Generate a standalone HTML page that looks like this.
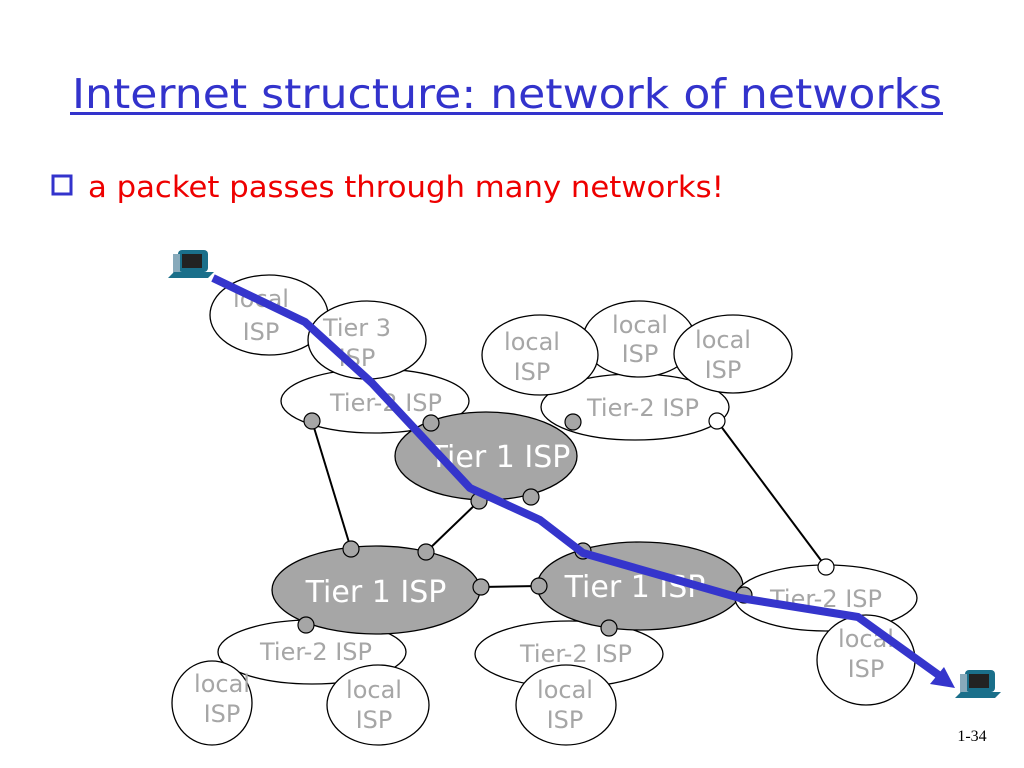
<!DOCTYPE html>
<html><head><meta charset="utf-8"><style>
html,body{margin:0;padding:0;background:#fff;}
svg{display:block}
</style></head><body>
<svg width="1024" height="768" viewBox="0 0 1024 768" xmlns="http://www.w3.org/2000/svg" font-family="'DejaVu Sans','Liberation Sans',sans-serif">
<rect width="1024" height="768" fill="#fff"/>
<text x="507" y="108" font-size="41" fill="#3333cc" text-anchor="middle" textLength="870" lengthAdjust="spacingAndGlyphs">Internet structure: network of networks</text>
<rect x="70" y="112" width="873" height="3" fill="#3333cc"/>
<rect x="53" y="176" width="18" height="18" fill="#fff" stroke="#3333cc" stroke-width="3"/>
<text x="88" y="197" font-size="29" fill="#ee0000" textLength="636" lengthAdjust="spacingAndGlyphs">a packet passes through many networks!</text>

<g stroke="#000" stroke-width="1.3" fill="#fff">
<ellipse cx="375" cy="401" rx="94" ry="32"/>
<ellipse cx="269" cy="315" rx="59" ry="40"/>
<ellipse cx="367" cy="340" rx="59" ry="39"/>
<ellipse cx="635" cy="407" rx="94" ry="33"/>
<ellipse cx="639" cy="339" rx="56" ry="38"/>
<ellipse cx="540" cy="355" rx="58" ry="40"/>
<ellipse cx="733" cy="354" rx="59" ry="39"/>
<ellipse cx="486" cy="456" rx="91" ry="44" fill="#a6a6a6"/>
<ellipse cx="312" cy="652" rx="94" ry="32"/>
<ellipse cx="212" cy="703" rx="40" ry="42"/>
<ellipse cx="378" cy="705" rx="51" ry="40"/>
<ellipse cx="376" cy="590" rx="104" ry="44" fill="#a6a6a6"/>
<ellipse cx="569" cy="654" rx="94" ry="33"/>
<ellipse cx="566" cy="705" rx="50" ry="40"/>
<ellipse cx="640" cy="586" rx="103" ry="44" fill="#a6a6a6"/>
<ellipse cx="826" cy="598" rx="91" ry="33"/>
<ellipse cx="866" cy="660" rx="49" ry="45"/>
</g>
<g stroke="#000" stroke-width="2">
<line x1="312" y1="421" x2="351" y2="549"/>
<line x1="479" y1="501" x2="426" y2="552"/>
<line x1="481" y1="587" x2="539" y2="586"/>
<line x1="717" y1="421" x2="826" y2="567"/>
</g>
<g fill="#a6a6a6" font-size="24" text-anchor="middle">
<text x="261" y="307">local</text><text x="261" y="340">ISP</text>
<text x="357" y="336">Tier 3</text><text x="357" y="366">ISP</text>
<text x="386" y="411">Tier-2 ISP</text>
<text x="532" y="350">local</text><text x="532" y="380">ISP</text>
<text x="640" y="333">local</text><text x="640" y="362">ISP</text>
<text x="723" y="348">local</text><text x="723" y="378">ISP</text>
<text x="643" y="416">Tier-2 ISP</text>
<text x="316" y="660">Tier-2 ISP</text>
<text x="222" y="692">local</text><text x="222" y="722">ISP</text>
<text x="374" y="698">local</text><text x="374" y="728">ISP</text>
<text x="576" y="662">Tier-2 ISP</text>
<text x="565" y="698">local</text><text x="565" y="728">ISP</text>
<text x="826" y="607">Tier-2 ISP</text>
<text x="866" y="647">local</text><text x="866" y="677">ISP</text>
</g>
<g fill="#fff" font-size="30" text-anchor="middle">
<text x="500" y="467">Tier 1 ISP</text>
<text x="376" y="602">Tier 1 ISP</text>
<text x="635" y="597">Tier 1 ISP</text>
</g>
<g fill="#a6a6a6" stroke="#000" stroke-width="1.2">
<circle cx="312" cy="421" r="8"/><circle cx="431" cy="423" r="8"/>
<circle cx="479" cy="501" r="8"/><circle cx="531" cy="497" r="8"/>
<circle cx="573" cy="422" r="8"/>
<circle cx="351" cy="549" r="8"/><circle cx="426" cy="552" r="8"/>
<circle cx="481" cy="587" r="8"/><circle cx="539" cy="586" r="8"/>
<circle cx="306" cy="625" r="8"/><circle cx="609" cy="628" r="8"/>
<circle cx="583" cy="551" r="8"/><circle cx="744" cy="595" r="8"/>
<circle cx="717" cy="421" r="8" fill="#fff"/><circle cx="826" cy="567" r="8" fill="#fff"/>
</g>
<polyline points="213,278 305,322 372,383 470,488 540,520 583,553 740,598 858,617 940,676" fill="none" stroke="#3535cc" stroke-width="8" stroke-linejoin="round"/>
<polygon points="955,688 930,684 944,667" fill="#3535cc"/>
<g transform="translate(168,248)">
<rect x="10" y="2" width="30" height="22" rx="4" fill="#1a6f8a"/><rect x="14" y="6" width="20" height="14" fill="#222"/>
<rect x="5" y="6" width="7" height="20" fill="#8ab"/><polygon points="0,30 40,30 46,24 6,24" fill="#1a6f8a"/>
</g>
<g transform="translate(955,668)">
<rect x="10" y="2" width="30" height="22" rx="4" fill="#1a6f8a"/><rect x="14" y="6" width="20" height="14" fill="#222"/>
<rect x="5" y="6" width="7" height="20" fill="#8ab"/><polygon points="0,30 40,30 46,24 6,24" fill="#1a6f8a"/>
</g>
<text x="972" y="741" font-family="'Liberation Serif',serif" font-size="16" fill="#000" text-anchor="middle">1-34</text>
</svg>
</body></html>
